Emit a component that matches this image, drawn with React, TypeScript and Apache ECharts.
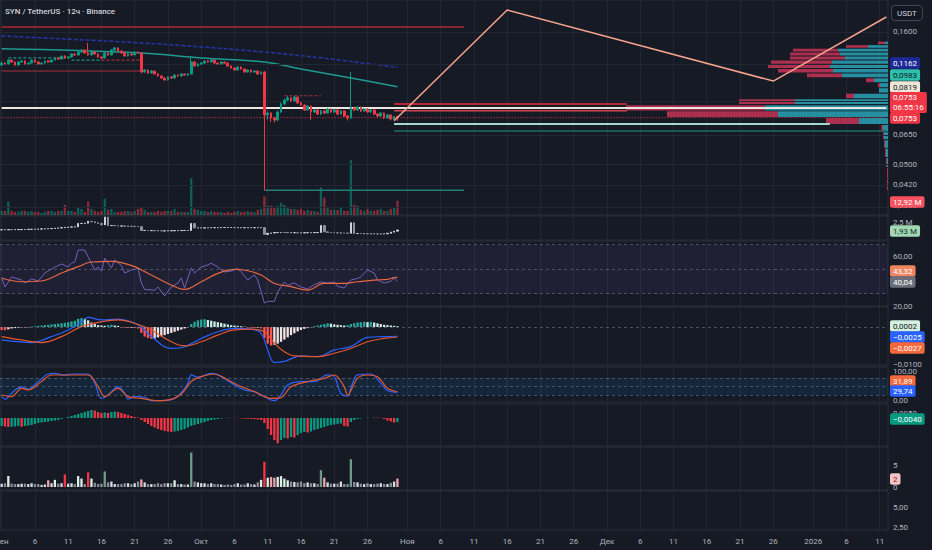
import React, { useEffect, useRef } from 'react';
import * as echarts from 'echarts';

// ---------- DATA ----------
// 12h candles from 1 Sep 2025 00:00 (slot 0) — [open, close, low, high]
const candles: number[][] = [
  [0.1190, 0.1211, 0.1180, 0.1225], [0.1211, 0.1201, 0.1195, 0.1220], [0.1201, 0.1243, 0.1196, 0.1252], [0.1243, 0.1222, 0.1214, 0.1248],
  [0.1222, 0.1190, 0.1182, 0.1228], [0.1190, 0.1222, 0.1186, 0.1231], [0.1222, 0.1233, 0.1212, 0.1245], [0.1233, 0.1201, 0.1195, 0.1240],
  [0.1201, 0.1211, 0.1192, 0.1220], [0.1211, 0.1243, 0.1205, 0.1250], [0.1243, 0.1222, 0.1215, 0.1248], [0.1222, 0.1201, 0.1195, 0.1228],
  [0.1201, 0.1211, 0.1196, 0.1218], [0.1211, 0.1233, 0.1205, 0.1238], [0.1233, 0.1222, 0.1214, 0.1240], [0.1222, 0.1243, 0.1218, 0.1250],
  [0.1243, 0.1265, 0.1238, 0.1270], [0.1265, 0.1254, 0.1246, 0.1272], [0.1254, 0.1287, 0.1250, 0.1292], [0.1287, 0.1265, 0.1258, 0.1296],
  [0.1265, 0.1276, 0.1260, 0.1284], [0.1276, 0.1310, 0.1270, 0.1318], [0.1310, 0.1299, 0.1290, 0.1316], [0.1299, 0.1333, 0.1294, 0.1340],
  [0.1333, 0.1356, 0.1322, 0.1365], [0.1356, 0.1321, 0.1312, 0.1362], [0.1321, 0.1299, 0.1290, 0.1443], [0.1299, 0.1333, 0.1292, 0.1345],
  [0.1333, 0.1310, 0.1300, 0.1340], [0.1310, 0.1276, 0.1268, 0.1318], [0.1276, 0.1265, 0.1258, 0.1285], [0.1265, 0.1321, 0.1260, 0.1335],
  [0.1321, 0.1299, 0.1290, 0.1328], [0.1299, 0.1356, 0.1294, 0.1368], [0.1356, 0.1380, 0.1345, 0.1395], [0.1380, 0.1345, 0.1336, 0.1388],
  [0.1345, 0.1321, 0.1312, 0.1352], [0.1321, 0.1287, 0.1280, 0.1328], [0.1287, 0.1310, 0.1282, 0.1318], [0.1310, 0.1299, 0.1290, 0.1316],
  [0.1299, 0.1333, 0.1295, 0.1340], [0.1333, 0.1321, 0.1314, 0.1338], [0.1321, 0.1120, 0.1108, 0.1326], [0.1120, 0.1140, 0.1112, 0.1150],
  [0.1140, 0.1110, 0.1102, 0.1146], [0.1110, 0.1130, 0.1104, 0.1138], [0.1130, 0.1101, 0.1094, 0.1136], [0.1101, 0.1082, 0.1075, 0.1108],
  [0.1082, 0.1063, 0.1055, 0.1088], [0.1063, 0.1045, 0.1038, 0.1070], [0.1045, 0.1073, 0.1040, 0.1080], [0.1073, 0.1063, 0.1056, 0.1082],
  [0.1063, 0.1091, 0.1058, 0.1098], [0.1091, 0.1082, 0.1074, 0.1096], [0.1082, 0.1101, 0.1077, 0.1108], [0.1101, 0.1091, 0.1084, 0.1106],
  [0.1091, 0.1101, 0.1085, 0.1110], [0.1101, 0.1222, 0.1096, 0.1287], [0.1222, 0.1180, 0.1172, 0.1230], [0.1180, 0.1201, 0.1175, 0.1210],
  [0.1201, 0.1211, 0.1192, 0.1220], [0.1211, 0.1233, 0.1205, 0.1240], [0.1233, 0.1222, 0.1214, 0.1240], [0.1222, 0.1243, 0.1218, 0.1252],
  [0.1243, 0.1211, 0.1204, 0.1248], [0.1211, 0.1201, 0.1193, 0.1218], [0.1201, 0.1222, 0.1196, 0.1230], [0.1222, 0.1211, 0.1203, 0.1228],
  [0.1211, 0.1180, 0.1172, 0.1216], [0.1180, 0.1160, 0.1152, 0.1186], [0.1160, 0.1140, 0.1133, 0.1166], [0.1140, 0.1170, 0.1135, 0.1176],
  [0.1170, 0.1150, 0.1142, 0.1175], [0.1150, 0.1120, 0.1113, 0.1156], [0.1120, 0.1140, 0.1115, 0.1147], [0.1140, 0.1120, 0.1113, 0.1145],
  [0.1120, 0.1130, 0.1112, 0.1136], [0.1130, 0.1101, 0.1094, 0.1135], [0.1101, 0.1120, 0.1096, 0.1126], [0.1120, 0.0771, 0.0401, 0.1128],
  [0.0771, 0.0784, 0.0740, 0.0795], [0.0784, 0.0751, 0.0725, 0.0790], [0.0751, 0.0738, 0.0722, 0.0760], [0.0738, 0.0791, 0.0732, 0.0800],
  [0.0791, 0.0848, 0.0785, 0.0860], [0.0848, 0.0878, 0.0840, 0.0890], [0.0878, 0.0894, 0.0868, 0.0910], [0.0894, 0.0871, 0.0862, 0.0900],
  [0.0871, 0.0901, 0.0866, 0.0912], [0.0901, 0.0856, 0.0848, 0.0906], [0.0856, 0.0841, 0.0833, 0.0864], [0.0841, 0.0805, 0.0798, 0.0846],
  [0.0805, 0.0833, 0.0800, 0.0840], [0.0833, 0.0791, 0.0738, 0.0838], [0.0791, 0.0805, 0.0785, 0.0812], [0.0805, 0.0777, 0.0770, 0.0810],
  [0.0777, 0.0798, 0.0772, 0.0805], [0.0798, 0.0784, 0.0777, 0.0804], [0.0784, 0.0812, 0.0780, 0.0818], [0.0812, 0.0791, 0.0784, 0.0817],
  [0.0791, 0.0805, 0.0786, 0.0812], [0.0805, 0.0777, 0.0770, 0.0810], [0.0777, 0.0798, 0.0772, 0.0804], [0.0798, 0.0764, 0.0757, 0.0802],
  [0.0764, 0.0751, 0.0735, 0.0770], [0.0751, 0.0819, 0.0745, 0.1120], [0.0819, 0.0805, 0.0798, 0.0828], [0.0805, 0.0826, 0.0800, 0.0834],
  [0.0826, 0.0798, 0.0791, 0.0830], [0.0798, 0.0812, 0.0793, 0.0818], [0.0812, 0.0791, 0.0784, 0.0816], [0.0791, 0.0805, 0.0786, 0.0812],
  [0.0805, 0.0777, 0.0770, 0.0810], [0.0777, 0.0764, 0.0757, 0.0782], [0.0764, 0.0784, 0.0760, 0.0790], [0.0784, 0.0751, 0.0744, 0.0788],
  [0.0751, 0.0771, 0.0746, 0.0777], [0.0771, 0.0744, 0.0736, 0.0775], [0.0744, 0.0760, 0.0738, 0.0765], [0.0760, 0.0753, 0.0733, 0.0766],
];

// volume, millions
const volumeM = [
  3.7, 3.7, 12.0, 3.7, 2.8, 2.8, 3.7, 3.7, 2.8, 3.7, 2.8, 2.8, 1.8, 2.8, 3.7, 3.7, 2.8, 3.7, 3.7, 9.2,
  3.7, 3.7, 2.8, 6.4, 5.5, 2.8, 12.0, 5.5, 3.7, 2.8, 3.7, 14.7, 4.6, 5.5, 2.8, 2.8, 2.8, 3.7, 3.7, 2.8,
  3.7, 5.5, 7.4, 4.6, 2.8, 2.8, 2.8, 3.7, 2.8, 3.7, 3.7, 3.7, 5.5, 2.8, 2.8, 2.8, 2.8, 33.1, 5.5, 4.6,
  3.7, 3.7, 2.8, 3.7, 2.8, 2.8, 2.8, 1.8, 2.8, 1.8, 2.8, 3.7, 2.8, 2.8, 3.7, 2.8, 2.8, 4.6, 5.5, 16.6,
  8.3, 8.3, 7.4, 8.3, 11.0, 9.2, 7.4, 5.5, 5.5, 4.6, 5.5, 3.7, 4.6, 3.7, 3.7, 2.8, 24.8, 15.6, 7.4, 4.6,
  4.6, 4.6, 7.4, 3.7, 3.7, 49.7, 9.2, 8.3, 4.6, 3.7, 5.5, 3.7, 3.7, 4.6, 5.5, 3.7, 3.7, 5.5, 6.4, 12.92,
];

// moving averages drawn on price: [slot, price]
const emaSlow = [[0, 0.1534], [20, 0.1490], [42, 0.1443], [60, 0.1393], [79, 0.1333], [100, 0.1250], [119, 0.1165]];
const emaFast = [[0, 0.1370], [42, 0.1321], [60, 0.1265], [79, 0.1222], [90, 0.1150], [105, 0.1063], [119, 0.0986]];

// projection zigzag [slot, price]
const zigzag = [[118, 0.0733], [152, 0.1920], [232, 0.1035], [266, 0.1807]];

// horizontal levels: [price, fromSlot, toSlot]
const strongHigh = [0.1657, 0, 139];
const weakLow = [0.0401, 79, 139];
const keyLevel = [0.0819, 0, 266];
const lastPrice = [0.0753, 0, 266];
const zoneTop = [0.0849, 118, 188];
const zoneMid = [0.0800, 118, 188];
const supportA = [0.0713, 118, 249];
const supportB = [0.0670, 118, 266];
const smcBullLines = [[0.1267, 2, 19], [0.1243, 21, 30]];
const smcBearLines = [[0.1243, 30, 42], [0.0911, 85, 96]];
const smcBearSolid = [[0.1130, 0, 42]];
// structure labels [slot, price, text]
const smcBearLabels: [number, number, string][] = [
  [36, 0.1170, 'ChoCH'], [70, 0.1299, 'EQH'], [72, 0.1040, 'BOS'], [87, 0.0967, 'EQH'],
  [92, 0.0967, 'EQH'], [111, 0.0719, 'BOS'], [139, 0.1693, 'Strong High'],
];
const smcBullLabels: [number, number, string][] = [
  [10, 0.1370, 'ChoCH'], [4, 0.1082, 'EQL'], [26, 0.1170, 'EQL'], [67, 0.1092, 'EQL'], [139, 0.0374, 'Weak Low'],
];

// visible-range volume profile rows: price (row centre), buy volume, sell volume (K)
const vpPrice = [0.1443, 0.1399, 0.1354, 0.1310, 0.1266, 0.1221, 0.1177, 0.1132, 0.1088, 0.1043, 0.0999, 0.0955,
  0.0910, 0.0866, 0.0821, 0.0777, 0.0732, 0.0688, 0.0644, 0.0599, 0.0555, 0.0510, 0.0466, 0.0422];
const vpBuy = [30, 200, 500, 480, 430, 560, 580, 550, 460, 140, 80, 90, 340, 930, 1230, 1100, 290, 50, 40, 30, 20, 10, 0, 0];
const vpSell = [70, 220, 450, 500, 550, 610, 620, 550, 350, 80, 20, 0, 80, 560, 1390, 1110, 330, 20, 10, 10, 10, 10, 10, 10];
const vpStep = 0.00444;

// pane 2: cumulative volume (M), closes
const cumVol = [
  1.95, 1.95, 1.96, 1.95, 1.96, 1.96, 1.97, 1.97, 1.98, 1.98, 1.99, 2.00, 2.01, 2.02, 2.03, 2.04, 2.06, 2.08, 2.10, 2.12,
  2.14, 2.15, 2.16, 2.40, 2.40, 2.42, 2.55, 2.52, 2.45, 2.40, 2.30, 2.85, 2.25,
  2.25, 2.24, 2.22, 2.22, 2.20, 2.20, 2.19, 2.18, 2.17, 1.90,
  1.90, 1.89, 1.89, 1.88, 1.88, 1.87, 1.87, 1.88, 1.88, 1.89, 1.89, 1.90, 1.90, 1.90, 2.40, 2.08,
  2.08, 2.08, 2.09, 2.09, 2.10, 2.10, 2.10, 2.11, 2.11, 2.11, 2.11, 2.10, 2.10, 2.10, 2.10, 2.10, 2.10, 2.10, 2.10, 2.10, 1.62,
  1.70, 1.72, 1.75, 1.75, 1.76, 1.75, 1.74, 1.74, 1.74, 1.73, 1.73, 1.74, 1.74, 1.74, 1.75, 1.75, 2.25, 1.80,
  1.75, 1.74, 1.73, 1.72, 1.72, 1.71, 1.70, 2.45, 1.68,
  1.68, 1.67, 1.67, 1.66, 1.66, 1.66, 1.65, 1.65, 1.66, 1.70, 1.78, 1.85, 1.93,
];

// RSI [slot, value] and its moving average
const rsi = [[0, 42.9], [1, 35.5], [3, 43.7], [6, 41.2], [7, 38.8], [9, 42], [11, 40.4], [13, 46.9], [16, 51.8], [18, 54.3],
  [20, 52], [21, 55], [22, 55.9], [23, 65.7], [25, 65.7], [26, 60], [28, 49.4], [29, 52], [30, 48.5], [31, 59], [33, 51],
  [34, 57.6], [36, 53], [37, 46.9], [39, 49.4], [41, 50.5], [42, 38.8], [43, 33.5], [46, 33], [47, 35.5], [49, 28.2],
  [51, 35.5], [53, 38.8], [54, 42.9], [55, 34.7], [57, 51], [58, 47], [60, 51.8], [62, 53.5], [63, 55], [65, 51.8],
  [67, 47.8], [69, 48.5], [71, 50.6], [72, 47.8], [74, 41.2], [76, 45.5], [77, 41.2], [79, 22.4], [80, 23.8], [82, 23.8],
  [83, 31.4], [85, 39.6], [86, 36.9], [88, 38.8], [90, 35.5], [92, 33.9], [94, 37.4], [96, 39.6], [98, 38.8], [100, 39.6],
  [101, 36], [103, 34.7], [105, 41.2], [107, 42.5], [108, 43.8], [110, 49.4], [112, 46.9], [113, 41.2], [115, 38.8],
  [117, 40.1], [118, 42.9], [119, 40.04]];
const rsiMa = [[0, 42.9], [6, 39.8], [12, 40.4], [18, 46.9], [23, 52.1], [27, 55.9], [33, 56.5], [36, 55.4], [40, 52.1],
  [45, 45.3], [50, 38.4], [55, 33.6], [60, 39.8], [65, 46.6], [70, 49.9], [74, 48.8], [78, 45.3], [82, 38.4], [87, 35.8],
  [92, 33.0], [97, 38.4], [102, 38.4], [107, 39.8], [112, 41.2], [116, 41.8], [118, 43.1], [119, 43.32]];

// MACD
const macdLine = [[0, -0.0035], [3, -0.0038], [9, -0.0042], [15, -0.0026], [20, -0.0008], [24, 0.0014], [26, 0.0026],
  [30, 0.0019], [35, 0.0021], [39, 0.0014], [42, 0.0000], [45, -0.0026], [51, -0.0058], [54, -0.0056], [60, -0.0031],
  [65, -0.0013], [70, -0.0004], [75, -0.0006], [78, -0.0017], [80, -0.0062], [82, -0.0096], [85, -0.0093], [90, -0.0078],
  [95, -0.0080], [100, -0.0062], [105, -0.0053], [110, -0.0028], [115, -0.0026], [119, -0.0025]];
const macdSignal = [[0, -0.0026], [6, -0.0035], [12, -0.0042], [18, -0.0026], [24, 0.0001], [30, 0.0014], [35, 0.0019],
  [40, 0.0010], [45, -0.0008], [50, -0.0035], [55, -0.0051], [60, -0.0040], [65, -0.0022], [70, -0.0008], [75, -0.0006],
  [79, -0.0013], [82, -0.0044], [85, -0.0067], [88, -0.0078], [95, -0.0080], [100, -0.0071], [105, -0.0058],
  [110, -0.0040], [115, -0.0031], [119, -0.0027]];
const macdHist = [
  -0.0008, -0.0009, -0.0006, -0.0004, -0.0003, -0.0002, -0.0001, -0.0002, -0.0001, 0.0001, 0.0002, 0.0003, 0.0004,
  0.0005, 0.0006, 0.0007, 0.0008, 0.0009, 0.0010, 0.0011, 0.0013, 0.0015, 0.0017, 0.0022, 0.0024, 0.0022,
  0.0018, 0.0012, 0.0008, 0.0005, 0.0004, 0.0003, 0.0005, 0.0006, 0.0004, 0.0003,
  -0.0001, -0.0002, -0.0003, -0.0002, -0.0003, -0.0004, -0.0016, -0.0026, -0.0030, -0.0032, -0.0031,
  -0.0028, -0.0025, -0.0022, -0.0019, -0.0016, -0.0013, -0.0010, -0.0007, -0.0004, -0.0001,
  0.0008, 0.0014, 0.0018, 0.0020, 0.0021, 0.0019, 0.0017, 0.0015, 0.0013, 0.0011, 0.0009, 0.0007, 0.0005, 0.0004, 0.0003,
  0.0002, 0.0001, -0.0001, -0.0002, -0.0003, -0.0002, -0.0004, -0.0030, -0.0045, -0.0050, -0.0048,
  -0.0045, -0.0040, -0.0034, -0.0028, -0.0022, -0.0017, -0.0012, -0.0008, -0.0005, -0.0003, -0.0001,
  0.0002, 0.0004, 0.0006, 0.0008, 0.0010, 0.0009, 0.0007, 0.0006, 0.0005, 0.0004, 0.0005, 0.0008, 0.0010,
  0.0012, 0.0013, 0.0014, 0.0013, 0.0014, 0.0012, 0.0010, 0.0008, 0.0006, 0.0005, 0.0004, 0.0003, 0.0002,
];

// Stochastic RSI
const stochK = [[0, 15], [1, 6], [4, 38], [6, 49], [8, 41], [11, 67], [14, 93], [16, 95], [19, 89], [21, 93], [26, 93],
  [28, 61], [30, 9], [32, 21], [35, 49], [37, 26], [38, 6], [40, 15], [43, 13], [45, 1], [50, 3], [52, 9], [54, 29],
  [56, 61], [57, 90], [59, 82], [63, 95], [66, 84], [70, 55], [73, 38], [76, 32], [79, 15], [82, 1], [84, 21], [86, 55],
  [90, 67], [94, 67], [98, 90], [100, 84], [102, 26], [104, 17], [105, 45], [107, 90], [111, 93], [114, 61], [116, 36],
  [119, 29.74]];
const stochD = [[0, 20.7], [3, 15], [6, 43.7], [8, 38], [12, 67], [15, 89.6], [20, 89.6], [26, 89.6], [29, 49.4],
  [31, 15], [35, 43.7], [38, 15], [42, 9.2], [47, 1.1], [51, 5.7], [54, 24.1], [57, 67], [60, 83.9], [64, 93],
  [68, 72.4], [72, 49.4], [76, 32.2], [81, 9.2], [84, 11.5], [87, 49.4], [92, 67], [97, 78.2], [100, 89.6],
  [103, 49.4], [104, 20.7], [107, 78.2], [110, 89.6], [113, 83.9], [116, 43.7], [119, 31.89]];

// momentum histogram
const momentum = [
  -0.0080, -0.0085, -0.0090, -0.0088, -0.0085, -0.0080, -0.0088, -0.0080, -0.0075, -0.0070,
  -0.0060, -0.0050, -0.0045, -0.0040, -0.0035, -0.0030, -0.0025, -0.0020,
  -0.0010, 0.0000, 0.0010, 0.0020, 0.0030, 0.0040, 0.0050, 0.0060,
  0.0070, 0.0080, 0.0075, 0.0060, 0.0050, 0.0055, 0.0050, 0.0060, 0.0065, 0.0060,
  0.0050, 0.0040, 0.0030, 0.0020, 0.0010, 0.0005,
  -0.0020, -0.0040, -0.0060, -0.0080, -0.0095, -0.0110, -0.0120, -0.0130, -0.0135, -0.0140,
  -0.0135, -0.0130, -0.0120, -0.0110, -0.0095, -0.0080, -0.0070, -0.0060, -0.0050, -0.0040, -0.0030, -0.0020, -0.0015, -0.0010,
  -0.0005, 0.0000, 0.0003, 0.0002, 0.0001, -0.0002, -0.0004, -0.0006, -0.0008, -0.0010, -0.0012, -0.0014, -0.0020,
  -0.0050, -0.0110, -0.0170, -0.0220, -0.0253,
  -0.0220, -0.0200, -0.0205, -0.0190, -0.0195, -0.0170,
  -0.0150, -0.0140, -0.0145, -0.0135, -0.0120, -0.0110, -0.0100, -0.0090, -0.0080, -0.0070, -0.0065, -0.0060, -0.0055, -0.0080, -0.0085,
  -0.0040, -0.0020, -0.0010, -0.0005, 0.0000,
  0.0003, 0.0000, 0.0005, 0.0004, 0.0002, -0.0010, -0.0025, -0.0035, -0.0045, -0.0040,
];

// relative volume
const relVol = [
  0.8, 0.9, 2.6, 0.8, 0.7, 0.7, 0.8, 0.8, 0.7, 0.9, 0.7, 0.7, 0.5, 0.6, 1.6, 0.9, 1.7, 0.8, 0.9, 3.0,
  0.8, 0.9, 0.7, 2.6, 2.0, 0.7, 3.5, 2.0, 1.0, 0.7, 0.8, 3.7, 1.1, 1.3, 0.7, 0.7, 0.7, 0.9, 0.9, 0.7,
  0.9, 1.3, 1.8, 1.1, 0.7, 0.7, 0.7, 0.9, 0.7, 0.9, 0.9, 0.9, 1.6, 0.7, 0.7, 0.6, 0.6, 8.2, 1.3, 1.1,
  0.9, 0.9, 0.7, 0.9, 0.7, 0.7, 0.6, 0.5, 0.6, 0.5, 0.7, 0.9, 0.6, 0.6, 0.9, 0.7, 0.6, 1.1, 1.7, 6.0,
  2.2, 2.4, 2.2, 2.4, 2.6, 2.0, 1.6, 1.3, 1.2, 1.1, 1.3, 0.9, 1.1, 0.9, 0.9, 0.7, 4.0, 2.2, 1.1, 0.8,
  0.8, 0.8, 1.3, 0.7, 0.7, 6.6, 1.2, 1.1, 0.8, 0.7, 0.9, 0.7, 0.7, 0.8, 0.9, 0.7, 0.7, 1.0, 1.3, 2.0,
];

// axis tick labels
const priceTicks = [0.16, 0.065, 0.05, 0.042, 0.035];
const priceGridTicks = [0.16, 0.12, 0.088, 0.065, 0.05, 0.042, 0.035];
const cumVolTicks = [2.5];
const rsiTicks = [60, 20];
const macdTicks = [-0.01];
const stochTicks = [100, 0];
const momentumTicks = [0.005];
const relVolTicks = [5, 0];
const lastPaneTicks = [5, 2.5];
const timeTickDays = [1, 6, 11, 16, 21, 26];
const monthLabels = ['Янв', 'Фев', 'Мар', 'Апр', 'Май', 'Июн', 'Июл', 'Авг', 'Сен', 'Окт', 'Ноя', 'Дек'];

// ---------- LAYOUT ----------
const W = 932, H = 550, RIGHT = 44;
const N_SLOTS = 267;
const FONT = 'Roboto, "Noto Sans", sans-serif';
const BG = '#161a25';
const UP = '#089981', DOWN = '#f23645';
const lg = (p: number) => Math.log10(p);
const MAIN_MAX = -0.67881, MAIN_MIN = -1.49071;

const panes = [
  { top: 0, height: 215 },   // 0 price
  { top: 159, height: 56 },  // 1 volume overlay
  { top: 0, height: 215 },   // 2 volume profile overlay
  { top: 216, height: 24 },  // 3 cum vol
  { top: 241, height: 65 },  // 4 RSI
  { top: 307, height: 58 },  // 5 MACD
  { top: 367, height: 35 },  // 6 Stoch RSI
  { top: 404, height: 42 },  // 7 momentum
  { top: 447, height: 43 },  // 8 rel volume
  { top: 491, height: 39 },  // 9 empty
];

const fmt = (v: number, d: number) => {
  const s = Math.abs(v).toFixed(d).replace('.', ',');
  return v < 0 ? '\u2212' + s : s;
};

export default function App() {
  const ref = useRef<HTMLDivElement>(null);
  useEffect(() => {
    document.body.style.margin = '0';
    const chart = echarts.init(ref.current!, null, { renderer: 'svg' });

    const START = Date.UTC(2025, 8, 1);
    const slotDates = Array.from({ length: N_SLOTS }, (_, i) => new Date(START + i * 43200000));
    const cats = slotDates.map((_, i) => String(i));
    const tickLabel = (i: number): string | null => {
      const d = slotDates[i];
      if (!d || d.getUTCHours() !== 0) return null;
      const day = d.getUTCDate();
      if (!timeTickDays.includes(day)) return null;
      if (day === 1) return d.getUTCMonth() === 0 ? String(d.getUTCFullYear()) : monthLabels[d.getUTCMonth()];
      return String(day);
    };
    const isTick = (i: number) => tickLabel(i) !== null;

    const gridIdxWithBorder = [0, 3, 4, 5, 6, 7, 8, 9];
    const grid = panes.map((p, i) => ({
      left: 0, right: RIGHT, top: p.top, height: p.height,
      show: gridIdxWithBorder.includes(i), borderColor: '#2a2e39', borderWidth: 1,
      containLabel: false, outerBoundsMode: 'none',
    }));

    const xAxis: any[] = panes.map((_, i) => {
      if (i === 2) {
        return { type: 'value', gridIndex: 2, inverse: true, min: 0, max: 8880, show: false };
      }
      return {
        type: 'category', gridIndex: i, data: cats, boundaryGap: true,
        axisLine: { show: false }, axisTick: { show: false },
        axisLabel: i === 9 ? {
          show: true, interval: (idx: number) => isTick(idx),
          formatter: (_v: string, idx: number) => tickLabel(idx) || '',
          color: '#b2b5be', fontSize: 8, fontFamily: FONT, margin: 7,
          alignMinLabel: 'center', alignMaxLabel: 'center', hideOverlap: false,
        } : { show: false },
        splitLine: {
          show: i !== 1, interval: (idx: number) => isTick(idx), alignWithLabel: true,
          lineStyle: { color: '#222633', width: 1 },
        },
      };
    });

    const yBase = { position: 'right', axisLine: { show: false }, axisTick: { show: false }, axisLabel: { show: false }, splitLine: { show: false } };
    const yAxis: any[] = [
      { ...yBase, type: 'value', gridIndex: 0, min: MAIN_MIN, max: MAIN_MAX },
      { ...yBase, type: 'value', gridIndex: 1, min: 0, max: 50.5 },
      { ...yBase, type: 'value', gridIndex: 2, min: MAIN_MIN, max: MAIN_MAX },
      { ...yBase, type: 'value', gridIndex: 3, min: 1.22, max: 2.93 },
      { ...yBase, type: 'value', gridIndex: 4, min: 20, max: 73.06 },
      { ...yBase, type: 'value', gridIndex: 5, min: -0.01027, max: 0.0054 },
      { ...yBase, type: 'value', gridIndex: 6, min: -3.45, max: 117.2 },
      { ...yBase, type: 'value', gridIndex: 7, min: -0.028, max: 0.014 },
      { ...yBase, type: 'value', gridIndex: 8, min: -0.714, max: 9.52 },
      { ...yBase, type: 'value', gridIndex: 9, min: 2.125, max: 7 },
    ];

    const onAxes = (i: number) => ({ xAxisIndex: i, yAxisIndex: i });
    const lineStyleNone = { symbol: 'none', silent: true };
    const hline = (lvl: number[], color: string, width: number, type: any = 'solid', z = 3) => ({
      type: 'line', ...onAxes(0), ...lineStyleNone, z,
      data: [[lvl[1], lg(lvl[0])], [lvl[2], lg(lvl[0])]],
      lineStyle: { color, width, type },
    });

    const dashLine = (vals: number[]) => ({
      silent: true, symbol: ['none', 'none'], label: { show: false },
      lineStyle: { color: '#787b86', type: [3, 3], width: 1, opacity: 0.55 },
      data: vals.map(v => ({ yAxis: v })),
    });

    const series: any[] = [
      // price grid lines + fast EMA
      {
        type: 'line', ...onAxes(0), ...lineStyleNone, z: 2, smooth: 0.4,
        data: emaFast.map(([s, p]) => [s, lg(p)]),
        lineStyle: { color: '#1f9a92', width: 1.5 },
        markLine: {
          silent: true, symbol: ['none', 'none'], label: { show: false },
          lineStyle: { color: '#232734', type: 'solid', width: 1 },
          data: priceGridTicks.map(p => ({ yAxis: lg(p) })),
        },
      },
      {
        type: 'line', ...onAxes(0), ...lineStyleNone, z: 2, smooth: 0.4,
        data: emaSlow.map(([s, p]) => [s, lg(p)]),
        lineStyle: { color: '#2536a8', width: 1.5, type: [4, 2] },
      },
      // volume profile
      {
        type: 'custom', ...onAxes(2), z: 1, silent: true,
        encode: { x: 0, y: 1 },
        data: vpPrice.map((p, i) => [vpBuy[i], lg(p + vpStep / 2), vpSell[i], lg(p - vpStep / 2)]),
        renderItem: (_params: any, api: any) => {
          const buy = api.value(0), top = api.value(1), sell = api.value(2), bot = api.value(3);
          const pR = api.coord([0, top]);
          const pB = api.coord([buy, bot]);
          const pS = api.coord([buy + sell, bot]);
          const y = pR[1] + 0.5;
          const h = Math.max(pB[1] - pR[1] - 1, 1);
          return {
            type: 'group', children: [
              { type: 'rect', shape: { x: pB[0], y, width: pR[0] - pB[0], height: h }, style: { fill: 'rgba(41,163,183,0.85)' } },
              { type: 'rect', shape: { x: pS[0], y, width: pB[0] - pS[0], height: h }, style: { fill: 'rgba(197,52,86,0.85)' } },
            ],
          };
        },
      },
      // levels
      hline(strongHigh, '#b22833', 1.5),
      hline(weakLow, '#1d7f76', 1.5),
      hline(zoneTop, '#b5283a', 2),
      hline(zoneMid, '#d2454f', 1.5),
      hline(supportA, '#a8d8cc', 2),
      hline(supportB, '#1f6e5e', 1.5),
      hline(keyLevel, '#ece7de', 2, 'solid', 4),
      hline(lastPrice, '#f23645', 1, [1, 2], 4),
      ...smcBullLines.map(l => hline(l, '#1f8f86', 1.2, [3, 2])),
      ...smcBearLines.map(l => hline(l, '#a5303d', 1.2, [3, 2])),
      ...smcBearSolid.map(l => hline(l, '#a5303d', 1.2)),
      // candles
      {
        type: 'candlestick', ...onAxes(0), z: 5, barWidth: 2.2, silent: true,
        data: candles.map(([o, c, l, h]) => [lg(o), lg(c), lg(l), lg(h)]),
        itemStyle: { color: UP, color0: DOWN, borderColor: UP, borderColor0: DOWN, borderWidth: 1 },
      },
      // zigzag projection
      {
        type: 'line', ...onAxes(0), symbol: 'none', silent: true, z: 6,
        lineStyle: { color: '#f4a28c', width: 1.5 },
        data: zigzag.map(([s, p], i) => ({
          value: [s, lg(p)],
          label: i === 1 ? { show: true, formatter: '(1)', position: 'top', distance: 5, color: '#f4a28c', fontSize: 11, fontFamily: FONT }
            : i === 2 ? { show: true, formatter: '(2)', position: 'bottom', distance: 7, color: '#f4a28c', fontSize: 11, fontFamily: FONT }
              : { show: false },
        })),
      },
      // SMC labels
      {
        type: 'scatter', ...onAxes(0), symbolSize: 1, itemStyle: { opacity: 0 }, silent: true, z: 7,
        data: smcBearLabels.map(([s, p, t]) => ({ value: [s, lg(p)], name: t })),
        label: { show: true, position: 'inside', formatter: '{b}', color: '#b8323f', fontSize: 5, fontFamily: FONT },
      },
      {
        type: 'scatter', ...onAxes(0), symbolSize: 1, itemStyle: { opacity: 0 }, silent: true, z: 7,
        data: smcBullLabels.map(([s, p, t]) => ({ value: [s, lg(p)], name: t })),
        label: { show: true, position: 'inside', formatter: '{b}', color: '#1f9a8e', fontSize: 5, fontFamily: FONT },
      },
      // volume overlay
      {
        type: 'bar', ...onAxes(1), barWidth: 2.3, silent: true,
        data: volumeM.map((v, i) => ({
          value: v,
          itemStyle: { color: candles[i][1] >= candles[i][0] ? 'rgba(8,153,129,0.55)' : 'rgba(242,54,69,0.55)' },
        })),
      },
      // pane 2 cumulative volume candles
      {
        type: 'candlestick', ...onAxes(3), barWidth: 2, silent: true,
        data: cumVol.map((c, i) => {
          const o = i === 0 ? c : cumVol[i - 1];
          return [o, c, Math.min(o, c), Math.max(o, c)];
        }),
        itemStyle: { color: '#d1d4dc', color0: '#8d909a', borderColor: '#d1d4dc', borderColor0: '#8d909a', borderWidth: 1 },
      },
      // RSI
      {
        type: 'line', ...onAxes(4), symbol: 'none', silent: true, z: 3,
        data: rsi, lineStyle: { color: '#7460b8', width: 1 },
        markArea: { silent: true, itemStyle: { color: 'rgba(126,87,194,0.10)' }, data: [[{ yAxis: 70 }, { yAxis: 30 }]] },
        markLine: dashLine([70, 50, 30]),
      },
      {
        type: 'line', ...onAxes(4), symbol: 'none', silent: true, smooth: 0.4, z: 4,
        data: rsiMa, lineStyle: { color: '#e8683f', width: 1.2 },
      },
      // MACD
      {
        type: 'bar', ...onAxes(5), barWidth: 2.3, silent: true,
        data: macdHist.map((v, i) => {
          const prev = i === 0 ? v : macdHist[i - 1];
          const color = v >= 0 ? (v >= prev ? '#26a69a' : '#c9ece6') : (v <= prev ? '#ff5252' : '#f3e4e6');
          return { value: v, itemStyle: { color } };
        }),
        markLine: dashLine([0]),
      },
      {
        type: 'line', ...onAxes(5), symbol: 'none', silent: true, smooth: 0.4, z: 4,
        data: macdLine, lineStyle: { color: '#2962ff', width: 1.2 },
      },
      {
        type: 'line', ...onAxes(5), symbol: 'none', silent: true, smooth: 0.4, z: 4,
        data: macdSignal, lineStyle: { color: '#e4572e', width: 1.2 },
      },
      // Stoch RSI
      {
        type: 'line', ...onAxes(6), symbol: 'none', silent: true, smooth: 0.35, z: 4,
        data: stochK, lineStyle: { color: '#2962ff', width: 1.2 },
        markArea: { silent: true, itemStyle: { color: 'rgba(33,150,243,0.10)' }, data: [[{ yAxis: 80 }, { yAxis: 20 }]] },
        markLine: dashLine([80, 50, 20]),
      },
      {
        type: 'line', ...onAxes(6), symbol: 'none', silent: true, smooth: 0.35, z: 5,
        data: stochD, lineStyle: { color: '#e4572e', width: 1.2 },
      },
      // momentum
      {
        type: 'bar', ...onAxes(7), barWidth: 2.3, silent: true,
        data: momentum.map((v, i) => {
          const prev = i === 0 ? v : momentum[i - 1];
          return { value: v, itemStyle: { color: v >= prev ? UP : DOWN } };
        }),
      },
      // relative volume
      {
        type: 'bar', ...onAxes(8), barWidth: 2.3, silent: true,
        data: relVol.map((v, i) => {
          const up = candles[i][1] >= candles[i][0];
          const color = v >= 3 ? (up ? '#6f9c8a' : '#f23645') : v >= 1.5 ? (up ? '#dcefe4' : '#eea3aa') : (up ? '#d6d9e0' : '#8b8e97');
          return { value: v, itemStyle: { color } };
        }),
      },
    ];

    chart.setOption({
      animation: false,
      backgroundColor: BG,
      textStyle: { fontFamily: FONT },
      grid, xAxis, yAxis, series,
    });

    // axis labels placed through the axes' own scales
    const axisLabels: { axis: number; value: number; text: string }[] = [
      ...priceTicks.map(p => ({ axis: 0, value: lg(p), text: fmt(p, 4) })),
      ...cumVolTicks.map(v => ({ axis: 3, value: v, text: fmt(v, 1) + ' M' })),
      ...rsiTicks.map(v => ({ axis: 4, value: v, text: fmt(v, 2) })),
      ...macdTicks.map(v => ({ axis: 5, value: v, text: fmt(v, 4) })),
      ...stochTicks.map(v => ({ axis: 6, value: v, text: fmt(v, 2) })),
      ...momentumTicks.map(v => ({ axis: 7, value: v, text: fmt(v, 4) })),
      ...relVolTicks.map(v => ({ axis: 8, value: v, text: String(v) })),
      ...lastPaneTicks.map(v => ({ axis: 9, value: v, text: fmt(v, 2) })),
    ];
    const labelEls = axisLabels.map(l => {
      const y = chart.convertToPixel({ yAxisIndex: l.axis } as any, l.value) as unknown as number;
      return {
        type: 'text', x: W - RIGHT + 5, y, z: 50,
        style: { text: l.text, fill: '#b2b5be', font: `8px ${FONT}`, verticalAlign: 'middle', align: 'left' },
      };
    });

    const badges: { y: number; text: string; bg: string; fg: string }[] = [
      { y: 63, text: '0,1162', bg: '#1c2a98', fg: '#ffffff' },
      { y: 75, text: '0,0983', bg: '#2ebfad', fg: '#0f1a1a' },
      { y: 87, text: '0,0819', bg: '#ede7da', fg: '#131722' },
      { y: 102.5, text: '0,0753\n06:55:16', bg: '#f23645', fg: '#ffffff' },
      { y: 118, text: '0,0753', bg: '#f23645', fg: '#ffffff' },
      { y: 202, text: '12,92 M', bg: '#f7525f', fg: '#ffffff' },
      { y: 231, text: '1,93 M', bg: '#a3d7b4', fg: '#123222' },
      { y: 271, text: '43,32', bg: '#ef855f', fg: '#ffffff' },
      { y: 282, text: '40,04', bg: '#6c6e79', fg: '#ffffff' },
      { y: 326, text: '0,0002', bg: '#d3efdf', fg: '#131722' },
      { y: 337, text: '\u22120,0025', bg: '#2962ff', fg: '#ffffff' },
      { y: 348, text: '\u22120,0027', bg: '#f4683c', fg: '#ffffff' },
      { y: 381, text: '31,89', bg: '#f4683c', fg: '#ffffff' },
      { y: 391, text: '29,74', bg: '#2962ff', fg: '#ffffff' },
      { y: 419, text: '\u22120,0040', bg: '#089981', fg: '#ffffff' },
      { y: 479, text: '2', bg: '#f5c3c8', fg: '#7a1d28' },
    ];
    const badgeEls = badges.map(b => ({
      type: 'text', x: W - RIGHT + 2, y: b.y, z: 60,
      style: {
        text: b.text, fill: b.fg, font: `8px ${FONT}`, verticalAlign: 'middle', align: 'left',
        backgroundColor: b.bg, padding: [1, 3, 1, 3], borderRadius: 2, lineHeight: 9.5,
      },
    }));

    chart.setOption({
      graphic: [
        ...labelEls,
        ...badgeEls,
        {
          type: 'text', x: 5, y: 11, z: 60,
          style: { text: 'SYN / TetherUS \u00b7 12ч \u00b7 Binance', fill: '#d1d4dc', font: `500 8px ${FONT}`, verticalAlign: 'middle' },
        },
        {
          type: 'text', x: W - RIGHT + 4, y: 13, z: 60,
          style: {
            text: 'USDT', fill: '#d1d4dc', font: `8px ${FONT}`, verticalAlign: 'middle',
            backgroundColor: '#131722', borderColor: '#434651', borderWidth: 1, borderRadius: 3, padding: [3, 5, 3, 5],
          },
        },
      ],
    });

    return () => chart.dispose();
  }, []);
  return <div ref={ref} style={{ position: 'fixed', left: 0, top: 0, width: W, height: H, background: BG }} />;
}
